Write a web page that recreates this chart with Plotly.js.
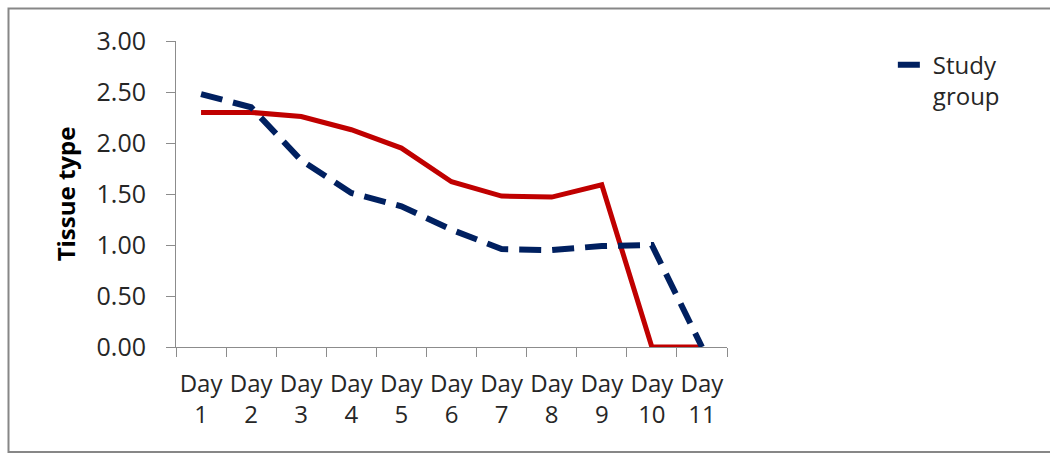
<!DOCTYPE html>
<html>
<head>
<meta charset="utf-8">
<script src="https://cdn.plot.ly/plotly-3.0.1.min.js"></script>
<style>
  html, body { margin: 0; padding: 0; background: #ffffff; }
  #chart { width: 1050px; height: 455px; }
</style>
</head>
<body>
<div id="chart"></div>
<script>
const days = ['Day<br>1', 'Day<br>2', 'Day<br>3', 'Day<br>4', 'Day<br>5', 'Day<br>6',
              'Day<br>7', 'Day<br>8', 'Day<br>9', 'Day<br>10', 'Day<br>11'];
const studyGroup = [2.48, 2.35, 1.83, 1.51, 1.38, 1.15, 0.96, 0.95, 0.99, 1.00, 0.00];
const controlGroup = [2.30, 2.30, 2.26, 2.13, 1.95, 1.62, 1.48, 1.47, 1.59, 0.00, 0.00];
const yTicks = [0, 0.5, 1, 1.5, 2, 2.5, 3];

const FONT = 'Open Sans, Liberation Sans, sans-serif';
const AXIS_GRAY = '#8c8c8c';

const traces = [
  {
    x: days, y: controlGroup, type: 'scatter', mode: 'lines',
    name: 'Control group', showlegend: false,
    line: { color: '#c00000', width: 5 }
  },
  {
    x: days, y: studyGroup, type: 'scatter', mode: 'lines',
    name: 'Study<br>group',
    line: { color: '#002060', width: 6, dash: '22px,11px' }
  }
];

const layout = {
  width: 1050, height: 455,
  margin: { l: 176, r: 323, t: 41, b: 108 },
  paper_bgcolor: '#ffffff', plot_bgcolor: '#ffffff',
  font: { family: FONT, size: 23, color: '#262626' },
  showlegend: true,
  legend: {
    x: 1.301, y: 0.995, xanchor: 'left', yanchor: 'top',
    valign: 'top', bgcolor: 'rgba(0,0,0,0)',
    font: { family: FONT, size: 24, color: '#262626' }
  },
  xaxis: {
    type: 'category', range: [-0.5, 10.5], tickangle: 0,
    showline: true, linecolor: AXIS_GRAY, linewidth: 1,
    ticks: 'outside', ticklen: 9, tickcolor: AXIS_GRAY, tickson: 'boundaries',
    showgrid: false, zeroline: false, fixedrange: true,
    ticklabelstandoff: 15,
    tickfont: { family: FONT, size: 24, color: '#262626' }
  },
  yaxis: {
    range: [0, 3], tickvals: yTicks, tickformat: '.2f',
    showline: true, linecolor: AXIS_GRAY, linewidth: 1,
    ticks: 'outside', ticklen: 9, tickcolor: AXIS_GRAY,
    showgrid: false, zeroline: false, fixedrange: true,
    ticklabelstandoff: 15,
    tickfont: { family: FONT, size: 25, color: '#262626' },
    title: { text: '<b>Tissue type</b>', standoff: 14,
             font: { family: FONT, size: 24, color: '#000000' } }
  },
  shapes: [{
    type: 'rect', xref: 'paper', yref: 'paper', layer: 'below',
    x0: -0.304, x1: 1.62, y0: -0.343, y1: 1.106,
    line: { color: '#878787', width: 2 }, fillcolor: 'rgba(0,0,0,0)'
  }]
};

Plotly.newPlot('chart', traces, layout, { displayModeBar: false, staticPlot: true });
</script>
</body>
</html>
